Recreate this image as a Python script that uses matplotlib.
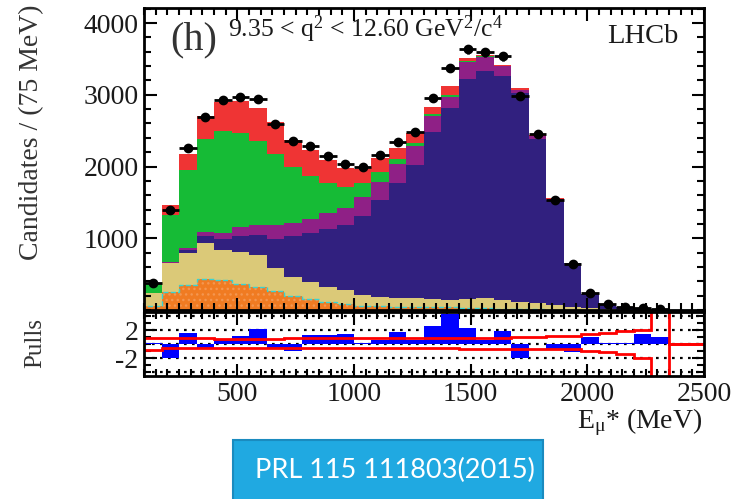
import numpy as np
import matplotlib
matplotlib.use('Agg')
import matplotlib.pyplot as plt
from matplotlib.patches import Rectangle
from matplotlib.ticker import MultipleLocator, FixedLocator

plt.rcParams['font.family'] = ['Liberation Serif', 'DejaVu Serif']
plt.rcParams['mathtext.fontset'] = 'custom'
plt.rcParams['mathtext.rm'] = 'Liberation Serif'
plt.rcParams['mathtext.it'] = 'Liberation Serif:italic'
plt.rcParams['axes.unicode_minus'] = False
plt.rcParams['hatch.linewidth'] = 1.0

# E_mu* binning: 32 bins of 75 MeV between 100 and 2500 MeV
bin_edges = np.arange(100, 2501, 75)

# fit components per bin (candidates), stacked bottom to top
misid = [55, 255, 345, 430, 420, 365, 320, 270, 200, 150, 105, 80, 55, 50, 40, 40,
         40, 35, 30, 25, 20, 15, 10, 5, 0, 0, 0, 0, 0, 0, 0, 0]
combinatoric = [185, 395, 455, 500, 420, 450, 445, 320, 265, 245, 215, 200, 155, 135, 130, 125,
                120, 105, 120, 140, 120, 100, 85, 65, 46, 25, 10, 5, 2, 0, 0, 0]
munu = [0, 10, 35, 105, 145, 210, 280, 400, 560, 675, 805, 905, 1100, 1350, 1605, 1855,
        2315, 2675, 3070, 3170, 3125, 2905, 2290, 1465, 605, 200, 80, 35, 18, 8, 3, 1]
dstst = [0, 10, 35, 55, 90, 130, 145, 190, 190, 200, 225, 240, 265, 255, 260, 265,
         225, 160, 235, 185, 130, 45, 35, 10, 4, 1, 0, 0, 0, 0, 0, 0]
dcharm = [125, 655, 1075, 1290, 1415, 1310, 1170, 995, 785, 600, 425, 285, 190, 140, 65, 45,
          35, 15, 20, 15, 10, 5, 3, 3, 1, 0, 0, 0, 0, 0, 0, 0]
taunu = [10, 140, 230, 330, 415, 445, 450, 450, 370, 360, 315, 265, 195, 185, 155, 140,
         90, 135, 37, 14, 14, 20, 20, 7, 4, 0, 0, 0, 0, 0, 0, 0]

# data (bins 0..29)
data = [380, 1395, 2255, 2685, 2930, 2975, 2940, 2595, 2350, 2285, 2150, 2030, 2000, 2160, 2335, 2485,
        2950, 3370, 3635, 3590, 3535, 2985, 2450, 1535, 640, 240, 85, 45, 23, 10]

# pulls and the +-1 sigma template band
pulls = [0.1, -2.0, 1.6, -0.5, 0.6, 1.2, 2.2, -0.5, -1.0, 1.3, 1.25, 1.5, 0.1, 0.6, 1.7, 0.6,
         2.5, 4.3, 2.3, 0.6, 1.9, -2.0, 0.0, -0.7, -1.05, 0.95, 0.1, 0.1, 1.4, 1.05, 0.0, 0.0]
band_hi = [0.82, 0.82, 0.82, 0.82, 0.68, 0.68, 0.68, 0.68, 0.9, 0.9, 0.9, 0.9, 0.9, 0.9, 0.9, 0.9,
           0.9, 0.9, 0.9, 0.9, 0.9, 0.96, 0.96, 1.15, 1.15, 1.4, 1.53, 1.86, 2.0, 9.0, 0.0, 0.0]
band_lo = [-0.82, -0.6, -0.6, -0.6, -0.6, -0.6, -0.6, -0.6, -0.6, -0.6, -0.6, -0.6, -0.6, -0.6, -0.6, -0.6,
           -0.6, -0.6, -0.73, -0.73, -0.73, -0.73, -0.73, -0.73, -0.73, -0.9, -1.06, -1.4, -2.0, -9.0, 0.0, 0.0]

components = [(misid, '#f07b22'), (combinatoric, '#dbc978'), (munu, '#31207f'),
              (dstst, '#8f2086'), (dcharm, '#16bb36'), (taunu, '#ef3434')]

fig = plt.figure(figsize=(7.37, 4.99), dpi=100)
ax = fig.add_axes([0.1954, 0.3788, 0.7598, 0.6052])
axp = fig.add_axes([0.1954, 0.2465, 0.7598, 0.1283])

base = np.zeros(len(bin_edges) - 1)
for vals, col in components:
    top = base + np.array(vals, dtype=float)
    ax.stairs(top, bin_edges, baseline=base, fill=True, color=col, lw=0)
    base = top

# dotted pattern and dashed outline on the mis-id component
ax.stairs(misid, bin_edges, baseline=0, fill=True, facecolor='none',
          edgecolor='#f49650', hatch='...', lw=0)
ax.stairs(misid, bin_edges, color='#38d3d3', ls='--', lw=1.0)

centers = 0.5 * (bin_edges[:-1] + bin_edges[1:])
data = np.array(data, dtype=float)
ax.errorbar(centers[:len(data)], data, xerr=37.5, yerr=np.sqrt(data), fmt='o',
            color='k', ms=6, elinewidth=2, capsize=0, zorder=5)

ax.set_xlim(100, 2500)
ax.set_ylim(0, 4210)
ax.xaxis.set_major_locator(MultipleLocator(500))
ax.xaxis.set_minor_locator(MultipleLocator(50))
ax.yaxis.set_major_locator(FixedLocator([1000, 2000, 3000, 4000]))
ax.yaxis.set_minor_locator(MultipleLocator(200))
ax.tick_params(which='both', direction='in', top=True, right=True, width=1.5,
               labelsize=20, labelbottom=False, pad=4, labelcolor='#1a1a1a')
ax.tick_params(which='major', length=9)
ax.tick_params(which='minor', length=5)

# pulls panel
for v in [-4, -2, 0, 2, 4]:
    axp.axhline(v, color='k', ls=(0, (1.2, 2.4)), lw=1.6, zorder=0.5)
axp.stairs(pulls, bin_edges, baseline=0, fill=True, color='#0000ff', lw=0, zorder=2)
axp.stairs(band_hi, bin_edges, baseline=None, color='#ff0000', lw=2, zorder=3)
axp.stairs(band_lo, bin_edges, baseline=None, color='#ff0000', lw=2, zorder=3)

axp.set_xlim(100, 2500)
axp.set_ylim(-4.5, 4.55)
axp.xaxis.set_major_locator(MultipleLocator(500))
axp.xaxis.set_minor_locator(MultipleLocator(50))
axp.yaxis.set_major_locator(FixedLocator([-2, 2]))
axp.yaxis.set_minor_locator(MultipleLocator(1))
axp.tick_params(which='both', direction='in', top=True, right=True, width=1.5,
                labelsize=20, pad=4, labelcolor='#1a1a1a')
axp.tick_params(which='major', length=9)
axp.tick_params(which='minor', length=5)
axp.set_xticks([500, 1000, 1500, 2000, 2500])

for a in (ax, axp):
    for s in a.spines.values():
        s.set_linewidth(2)
        s.set_zorder(6)

fig.text(32 / 737, 1 - 5 / 499, 'Candidates / (75 MeV)', rotation=90, ha='center', va='top',
         fontsize=20, color='#333333')
fig.text(35 / 737, 1 - 343 / 499, 'Pulls', rotation=90, ha='center', va='center',
         fontsize=18, color='#333333')
fig.text(702 / 737, 1 - 428 / 499, r'E$_{\mathregular{\mu}}$* (MeV)', ha='right', va='baseline',
         fontsize=20, color='#1a1a1a')

fig.text(170 / 737, 1 - 40 / 499, '(h)', ha='left', va='center', fontsize=29, color='#333333')
fig.text(228 / 737, 1 - 37 / 499, r'9.35 < q$^{2}$ < 12.60 GeV$^{2}$/c$^{4}$', ha='left',
         va='baseline', fontsize=18.5, color='#1a1a1a')
fig.text(607 / 737, 1 - 43 / 499, 'LHCb', ha='left', va='baseline', fontsize=20.5, color='#1a1a1a')

# reference box
fig.patches.append(Rectangle((233 / 737, -0.05), 310 / 737, 0.05 + 59 / 499,
                             transform=fig.transFigure, facecolor='#20a9e1',
                             edgecolor='#1a8bbf', lw=1.5))
fig.text(255 / 737, 1 - 470 / 499, 'PRL 115 111803(2015)', ha='left', va='center',
         fontsize=19.5, color='white', family='Lato')

fig.savefig('out.png', dpi=100)
